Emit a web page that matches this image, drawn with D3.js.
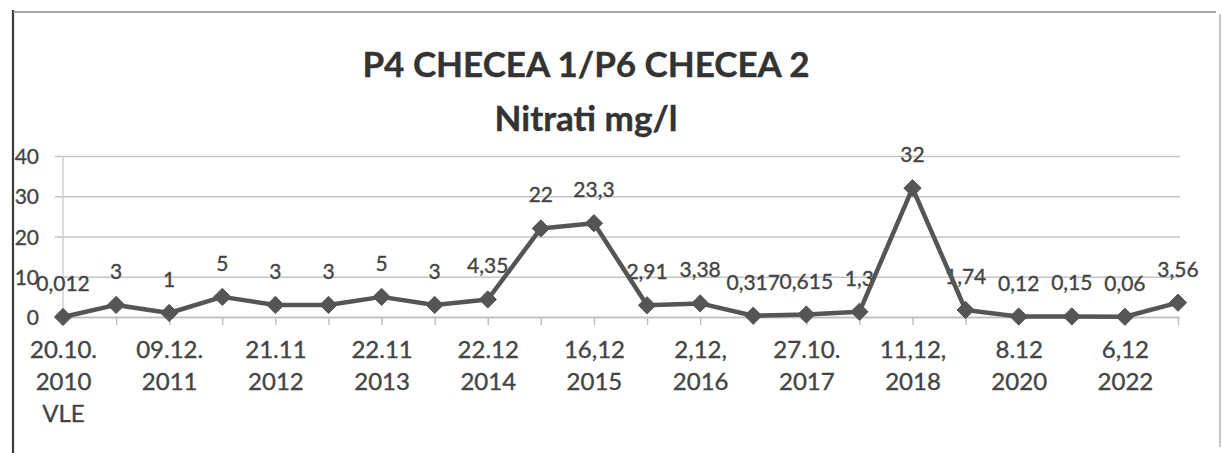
<!DOCTYPE html>
<html>
<head>
<meta charset="utf-8">
<script src="https://cdn.jsdelivr.net/npm/d3@7"></script>
<style>
  html, body { margin: 0; padding: 0; background: #fff; }
  svg { display: block; }
</style>
</head>
<body>
<svg id="chart" width="1222" height="453"></svg>
<script>
// ---- data ----
const titleLines = ["P4 CHECEA 1/P6 CHECEA 2", "Nitrati mg/l"];
const values = [0.012, 3, 1, 5, 3, 3, 5, 3, 4.35, 22, 23.3, 2.91, 3.38, 0.317, 0.615, 1.3, 32, 1.74, 0.12, 0.15, 0.06, 3.56];
const tickLabels = [
  ["20.10.", "2010", "VLE"],
  ["09.12.", "2011"],
  ["21.11", "2012"],
  ["22.11", "2013"],
  ["22.12", "2014"],
  ["16,12", "2015"],
  ["2,12,", "2016"],
  ["27.10.", "2017"],
  ["11,12,", "2018"],
  ["8.12", "2020"],
  ["6,12", "2022"]
];
const yTicks = [0, 10, 20, 30, 40];

// ---- layout ----
const svg = d3.select("#chart");
const xLeft = 63, xRight = 1178, yTop = 156, yBottom = 317;
const gridLeft = 55, gridRight = 1180;
const textColor = "#444";
const font = "Lato, 'DejaVu Sans', sans-serif";

const x = d3.scalePoint().domain(d3.range(values.length)).range([xLeft, xRight]);
const y = d3.scaleLinear().domain([0, 40]).range([yBottom, yTop]);

// frame
svg.append("line").attr("x1", 13).attr("x2", 13).attr("y1", 10).attr("y2", 453)
  .attr("stroke", "#3a3a3a").attr("stroke-width", 2.2);
svg.append("line").attr("x1", 13).attr("x2", 1216).attr("y1", 12).attr("y2", 12)
  .attr("stroke", "#8a8a8a").attr("stroke-width", 1.6);
svg.append("line").attr("x1", 1220).attr("x2", 1220).attr("y1", 14).attr("y2", 447)
  .attr("stroke", "#b8b8b8").attr("stroke-width", 1.6);

// title
const title = svg.append("text").attr("text-anchor", "middle")
  .attr("font-family", font).attr("font-weight", "bold").attr("font-size", 35)
  .attr("fill", "#333").attr("stroke", "#333").attr("stroke-width", 0.4);
title.selectAll("tspan").data(titleLines).join("tspan")
  .attr("x", 586).attr("y", (d, i) => 77 + i * 54).text(d => d);

// y axis with gridlines
const yAxis = d3.axisLeft(y).tickValues(yTicks).tickFormat(d3.format("d"))
  .tickSizeInner(-(gridRight - gridLeft)).tickSizeOuter(0).tickPadding(16);
const gy = svg.append("g").attr("transform", `translate(${gridLeft},0)`).call(yAxis);
gy.select(".domain").remove();
gy.selectAll(".tick line").attr("stroke", "#c4c4c4").attr("stroke-width", 1.6);
gy.selectAll(".tick text").attr("font-family", font).attr("font-size", 21)
  .attr("fill", textColor).attr("stroke", textColor).attr("stroke-width", 0.35)
  .attr("dy", "0.36em");

// vertical axis line
svg.append("line").attr("x1", xLeft).attr("x2", xLeft).attr("y1", yTop).attr("y2", yBottom)
  .attr("stroke", "#cfcfcf").attr("stroke-width", 1.4);

// x axis
const xAxis = d3.axisBottom(x).tickSizeInner(8).tickSizeOuter(0).tickFormat(() => "");
const gx = svg.append("g").attr("transform", `translate(0,${yBottom})`).call(xAxis);
gx.select(".domain").attr("stroke", "#bdbdbd").attr("stroke-width", 1.6);
gx.selectAll(".tick line").attr("stroke", "#bdbdbd").attr("stroke-width", 1.4);
gx.selectAll(".tick").each(function(d) {
  if (d % 2 !== 0) return;
  const lines = tickLabels[d / 2];
  const t = d3.select(this).select("text")
    .attr("font-family", font).attr("font-size", 24).attr("fill", textColor)
    .attr("stroke", textColor).attr("stroke-width", 0.35)
    .attr("y", 0).attr("dy", null);
  t.selectAll("tspan").data(lines).join("tspan")
    .attr("x", 0).attr("y", (l, i) => 41 + i * 32).text(l => l);
});

// data labels (under the line, as in the reference)
const fmt = v => String(v).replace(".", ",");
svg.append("g").selectAll("text").data(values).join("text")
  .attr("x", (d, i) => x(i)).attr("y", d => y(d) - 26)
  .attr("text-anchor", "middle").attr("font-family", font).attr("font-size", 21)
  .attr("fill", textColor).attr("stroke", textColor).attr("stroke-width", 0.35)
  .text(d => fmt(d));

// line
const line = d3.line().x((d, i) => x(i)).y(d => y(d));
svg.append("path").datum(values).attr("d", line)
  .attr("fill", "none").attr("stroke", "#555").attr("stroke-width", 4.5)
  .attr("stroke-linejoin", "round");

// markers
const diamond = d3.symbol().type(d3.symbolDiamond2).size(190);
svg.append("g").selectAll("path").data(values).join("path")
  .attr("transform", (d, i) => `translate(${x(i)},${y(d)})`)
  .attr("d", diamond).attr("fill", "#555").attr("stroke", "#555").attr("stroke-width", 1);
</script>
</body>
</html>
